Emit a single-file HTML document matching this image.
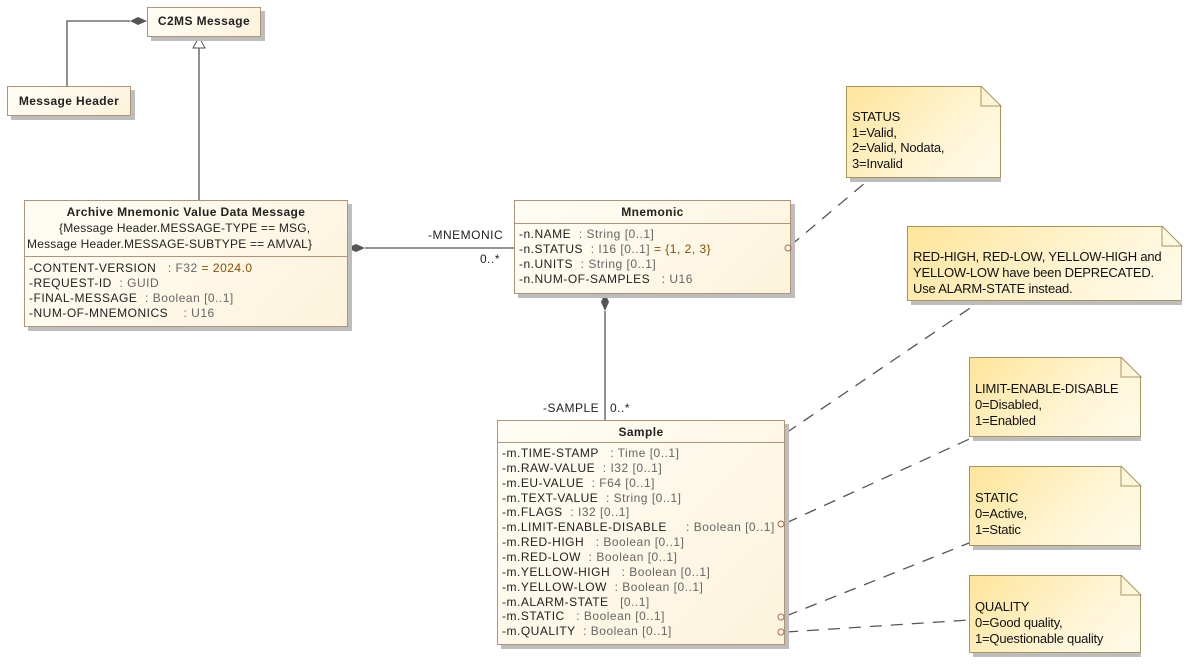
<!DOCTYPE html>
<html><head><meta charset="utf-8"><style>
body{margin:0;width:1189px;height:664px;background:#fff;position:relative;overflow:hidden;font-family:"Liberation Sans",sans-serif;font-size:12px;color:#222}
.c{position:absolute;border:1px solid #b09478;background:linear-gradient(135deg,#fffdf5,#fdf3dc);box-shadow:4px 4px 0 #bdbdbd;box-sizing:border-box}
.t{font-weight:bold;text-align:center;letter-spacing:0.4px}
.r{position:absolute;left:4px;white-space:nowrap;line-height:14px;letter-spacing:0.5px}
.g{color:#666}.o{color:#8b4d00}
.hr{position:absolute;left:0;right:0;border-top:1px solid #b09478}
.n{position:absolute;box-sizing:border-box;border:1px solid #a8955e;background:linear-gradient(135deg,#ffe59a,#fff6d8 65%,#fffbea);box-shadow:4px 4px 0 #bdbdbd;clip-path:polygon(0 0,calc(100% - 20px) 0,100% 20px,100% calc(100% + 6px),-2px calc(100% + 6px),-2px 0)}
.nt{position:absolute;left:5px;white-space:nowrap;line-height:16px;color:#111;font-size:13px;letter-spacing:-0.2px}
svg{position:absolute;left:0;top:0}
</style></head><body>
<svg width="1189" height="664">
<g stroke="#555" fill="none" stroke-width="1.3">
<polyline points="67,86 67,21 130,21"/>
<line x1="199" y1="200" x2="199" y2="48"/>
<line x1="365" y1="248" x2="514" y2="248"/>
<line x1="605" y1="311" x2="605" y2="420"/>
<g stroke-dasharray="12,9">
<line x1="790" y1="246" x2="872" y2="177"/>
<line x1="786" y1="433" x2="982" y2="300"/>
<line x1="786" y1="523" x2="976" y2="436"/>
<line x1="786" y1="616" x2="969" y2="543"/>
<line x1="786" y1="632" x2="969" y2="620"/>
</g></g>
<polygon points="130,21 138,17 147,21 138,25" fill="#555"/>
<polygon points="199,37 193,48 205,48" fill="#fff" stroke="#555"/>
<polygon points="347,248 356,244 365,248 356,252" fill="#555"/>
<polygon points="605,293 601,302 605,311 609,302" fill="#555"/>
<g font-family="Liberation Sans" font-size="12" fill="#222" letter-spacing="0.5">
<text x="428" y="239">-MNEMONIC</text><text x="480" y="263">0..*</text>
<text x="543" y="412">-SAMPLE</text><text x="610" y="412">0..*</text>
</g>
</svg>

<div class="c" style="left:147px;top:7px;width:114px;height:30px"><div class="t" style="margin-top:6px">C2MS Message</div></div>
<div class="c" style="left:7px;top:86px;width:124px;height:30px"><div class="t" style="margin-top:7px">Message Header</div></div>

<div class="c" style="left:24px;top:200px;width:324px;height:127px">
<div class="t" style="position:absolute;left:0;right:0;top:4px">Archive Mnemonic Value Data Message</div>
<div class="r" style="top:20px;left:34px;letter-spacing:0.2px">{Message Header.MESSAGE-TYPE == MSG,</div>
<div class="r" style="top:36px;left:2px;letter-spacing:0.2px">Message Header.MESSAGE-SUBTYPE == AMVAL}</div>
<div class="hr" style="top:55px"></div>
<div class="r" style="top:60px">-CONTENT-VERSION &nbsp;&nbsp;<span class="g">: F32</span> <span class="o">= 2024.0</span></div>
<div class="r" style="top:75px">-REQUEST-ID &nbsp;<span class="g">: GUID</span></div>
<div class="r" style="top:90px">-FINAL-MESSAGE &nbsp;<span class="g">: Boolean [0..1]</span></div>
<div class="r" style="top:105px">-NUM-OF-MNEMONICS &nbsp;&nbsp;&nbsp;<span class="g">: U16</span></div>
</div>

<div class="c" style="left:514px;top:200px;width:277px;height:94px">
<div class="t" style="position:absolute;left:0;right:0;top:4px">Mnemonic</div>
<div class="hr" style="top:22px"></div>
<div class="r" style="top:26px">-n.NAME &nbsp;<span class="g">: String [0..1]</span></div>
<div class="r" style="top:41px">-n.STATUS &nbsp;<span class="g">: I16 [0..1]</span> <span class="o">= {1, 2, 3}</span></div>
<div class="r" style="top:56px">-n.UNITS &nbsp;<span class="g">: String [0..1]</span></div>
<div class="r" style="top:71px">-n.NUM-OF-SAMPLES &nbsp;&nbsp;<span class="g">: U16</span></div>
</div>

<div class="c" style="left:497px;top:420px;width:288px;height:225px">
<div class="t" style="position:absolute;left:0;right:0;top:4px">Sample</div>
<div class="hr" style="top:21px"></div>
<div class="r" style="top:25px">-m.TIME-STAMP &nbsp;&nbsp;<span class="g">: Time [0..1]</span></div>
<div class="r" style="top:40px">-m.RAW-VALUE &nbsp;<span class="g">: I32 [0..1]</span></div>
<div class="r" style="top:55px">-m.EU-VALUE &nbsp;<span class="g">: F64 [0..1]</span></div>
<div class="r" style="top:70px">-m.TEXT-VALUE &nbsp;<span class="g">: String [0..1]</span></div>
<div class="r" style="top:84px">-m.FLAGS &nbsp;<span class="g">: I32 [0..1]</span></div>
<div class="r" style="top:99px">-m.LIMIT-ENABLE-DISABLE &nbsp;&nbsp;&nbsp;&nbsp;<span class="g">: Boolean [0..1]</span></div>
<div class="r" style="top:114px">-m.RED-HIGH &nbsp;&nbsp;<span class="g">: Boolean [0..1]</span></div>
<div class="r" style="top:129px">-m.RED-LOW &nbsp;<span class="g">: Boolean [0..1]</span></div>
<div class="r" style="top:144px">-m.YELLOW-HIGH &nbsp;&nbsp;<span class="g">: Boolean [0..1]</span></div>
<div class="r" style="top:159px">-m.YELLOW-LOW &nbsp;<span class="g">: Boolean [0..1]</span></div>
<div class="r" style="top:174px">-m.ALARM-STATE &nbsp;&nbsp;<span class="g">[0..1]</span></div>
<div class="r" style="top:188px">-m.STATIC &nbsp;&nbsp;<span class="g">: Boolean [0..1]</span></div>
<div class="r" style="top:203px">-m.QUALITY &nbsp;<span class="g">: Boolean [0..1]</span></div>
</div>

<div class="n" style="left:846px;top:86px;width:155px;height:92px"><div class="nt" style="top:22px;line-height:15.5px">STATUS<br>1=Valid,<br>2=Valid, Nodata,<br>3=Invalid</div></div>
<div class="n" style="left:907px;top:226px;width:275px;height:75px"><div class="nt" style="top:22px">RED-HIGH, RED-LOW, YELLOW-HIGH and<br>YELLOW-LOW have been DEPRECATED.<br>Use ALARM-STATE instead.</div></div>
<div class="n" style="left:969px;top:357px;width:172px;height:80px"><div class="nt" style="top:23px">LIMIT-ENABLE-DISABLE<br>0=Disabled,<br>1=Enabled</div></div>
<div class="n" style="left:969px;top:466px;width:172px;height:80px"><div class="nt" style="top:23px">STATIC<br>0=Active,<br>1=Static</div></div>
<div class="n" style="left:969px;top:575px;width:172px;height:78px"><div class="nt" style="top:23px">QUALITY<br>0=Good quality,<br>1=Questionable quality</div></div>

<svg width="1189" height="664">
<g fill="none" stroke="#a8955e" stroke-width="1">
<polyline points="981,86 1001,106 981,106 981,86"/>
<polyline points="1162,226 1182,246 1162,246 1162,226"/>
<polyline points="1121,357 1141,377 1121,377 1121,357"/>
<polyline points="1121,466 1141,486 1121,486 1121,466"/>
<polyline points="1121,575 1141,595 1121,595 1121,575"/>
</g>
<g fill="none" stroke="#a07050"><circle cx="788" cy="248" r="3"/><circle cx="781" cy="524" r="3"/><circle cx="781" cy="617" r="3"/><circle cx="781" cy="632" r="3"/></g>
</svg>
</body></html>
